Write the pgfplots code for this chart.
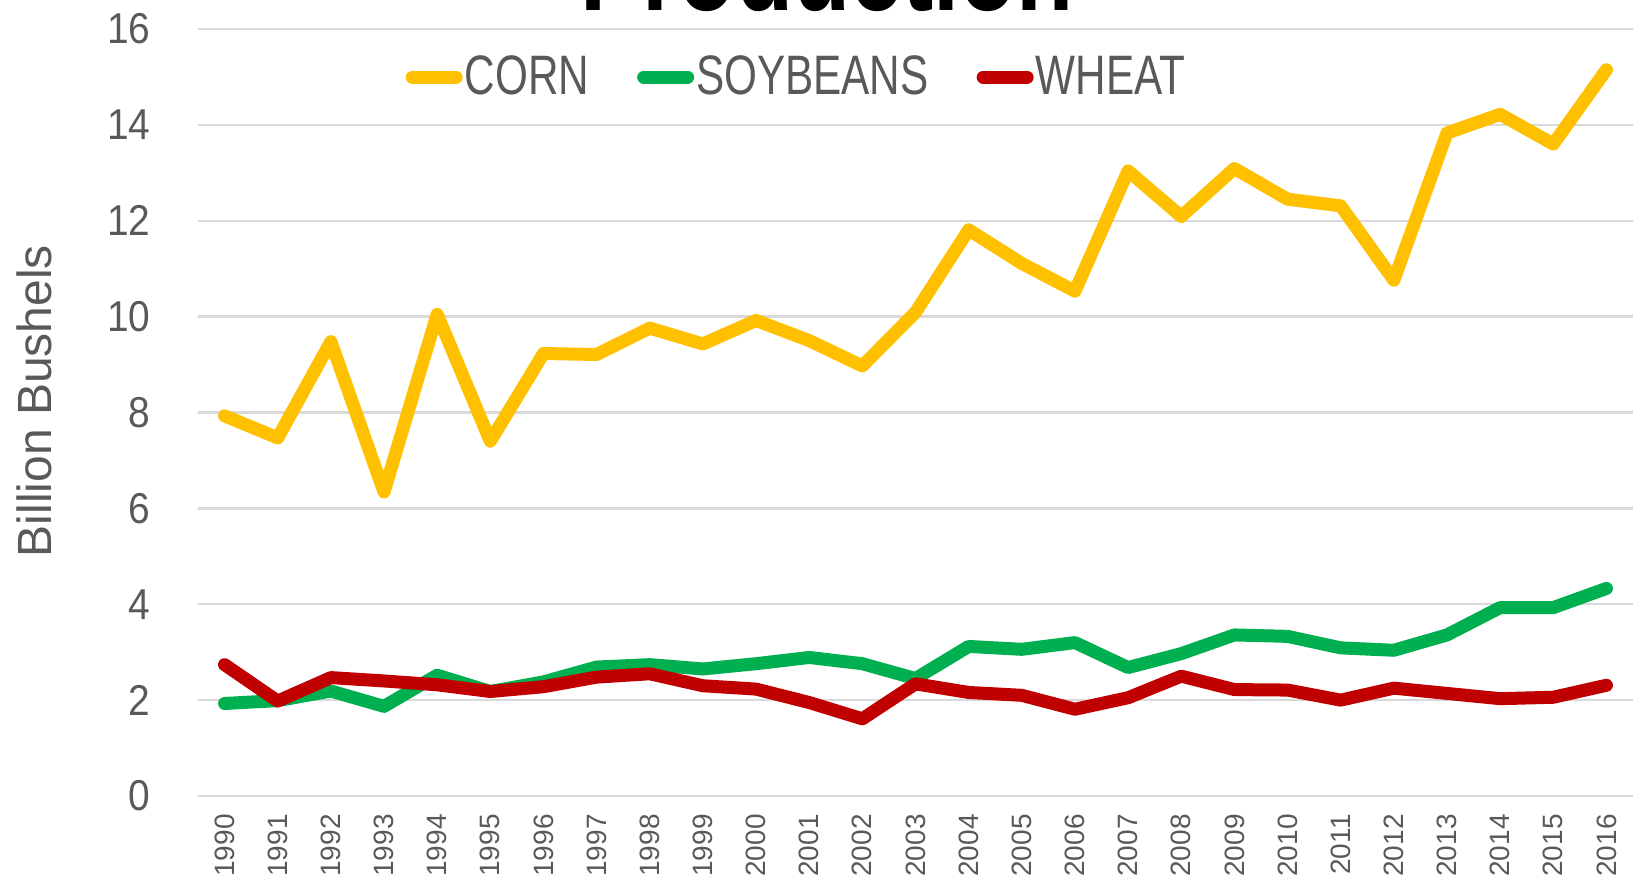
\documentclass[border=0pt]{standalone}
\usepackage{fontspec}
\setmainfont{Liberation Sans}
\newfontfamily\cond[FakeStretch=0.76]{Liberation Sans}
\newfontfamily\condnum[FakeStretch=0.9]{Liberation Sans}
\newfontfamily\titlef[FakeStretch=0.78]{Liberation Sans Bold}
\usepackage{pgfplots}
\pgfplotsset{compat=1.18}
\definecolor{corn}{HTML}{FFC000}
\definecolor{soy}{HTML}{00B050}
\definecolor{wheat}{HTML}{C00000}
\definecolor{txt}{HTML}{595959}
\definecolor{gridc}{HTML}{D9D9D9}
\begin{document}
\begin{tikzpicture}
\begin{axis}[
  at={(0,0)}, anchor=south west,
  scale only axis, width=717.5pt, height=383.5pt,
  xmin=1989.5, xmax=2016.5, ymin=0, ymax=16,
  xtick distance=1, ytick distance=2,
  axis line style={draw=none},
  major tick length=0pt,
  ymajorgrids, grid style={line width=1.2pt, color=gridc},
  /pgf/number format/assume math mode=true,
  xticklabel style={/pgf/number format/1000 sep=, rotate=90, anchor=east, inner sep=0pt,
    font=\fontsize{14}{14}\selectfont, text=txt},
  xticklabel shift=9pt,
  yticklabel style={anchor=east, inner sep=0pt, font=\condnum\fontsize{21.6}{22}\selectfont, text=txt},
  yticklabel shift=23.5pt,
  ylabel={Billion Bushels},
  ylabel style={at={(axis description cs:-0.1143,0.515)}, anchor=center,
    font=\fontsize{24}{24}\selectfont, text=txt},
  legend columns=3,
  legend style={at={(axis description cs:0.417,0.9374)}, anchor=center, draw=none, fill=none,
    font=\cond\fontsize{27.8}{28}\selectfont, text=txt,
    nodes={inner sep=1pt},
    /tikz/every even column/.append style={column sep=23pt}},
  legend image code/.code={\draw[line width=6.5pt, line cap=round] (3.25pt,0pt) -- (25.25pt,0pt);},
  every axis plot/.append style={line width=6.5pt, line join=round, line cap=round},
]
\addplot[corn] coordinates {
(1990,7.93) (1991,7.47) (1992,9.48) (1993,6.34) (1994,10.05) (1995,7.40) (1996,9.23)
(1997,9.21) (1998,9.76) (1999,9.43) (2000,9.92) (2001,9.50) (2002,8.97) (2003,10.09)
(2004,11.81) (2005,11.11) (2006,10.53) (2007,13.04) (2008,12.09) (2009,13.09) (2010,12.45)
(2011,12.31) (2012,10.76) (2013,13.83) (2014,14.22) (2015,13.60) (2016,15.15)};
\addlegendentry{CORN}
\addplot[soy] coordinates {
(1990,1.93) (1991,1.99) (1992,2.19) (1993,1.87) (1994,2.52) (1995,2.18) (1996,2.38)
(1997,2.69) (1998,2.74) (1999,2.65) (2000,2.76) (2001,2.89) (2002,2.76) (2003,2.45)
(2004,3.12) (2005,3.06) (2006,3.20) (2007,2.68) (2008,2.97) (2009,3.36) (2010,3.33)
(2011,3.09) (2012,3.04) (2013,3.36) (2014,3.93) (2015,3.93) (2016,4.33)};
\addlegendentry{SOYBEANS}
\addplot[wheat] coordinates {
(1990,2.74) (1991,1.98) (1992,2.47) (1993,2.40) (1994,2.32) (1995,2.18) (1996,2.28)
(1997,2.48) (1998,2.55) (1999,2.30) (2000,2.23) (2001,1.95) (2002,1.61) (2003,2.34)
(2004,2.16) (2005,2.10) (2006,1.81) (2007,2.05) (2008,2.50) (2009,2.22) (2010,2.21)
(2011,2.00) (2012,2.25) (2013,2.14) (2014,2.03) (2015,2.06) (2016,2.31)};
\addlegendentry{WHEAT}
\end{axis}
\node[font=\titlef\fontsize{60}{60}\selectfont, anchor=base, inner sep=0pt] at (314.5pt,392.5pt) {Production};
\pgfresetboundingbox
\path[use as bounding box] (-99pt,-44pt) rectangle (719pt,398pt);
\end{tikzpicture}
\end{document}
